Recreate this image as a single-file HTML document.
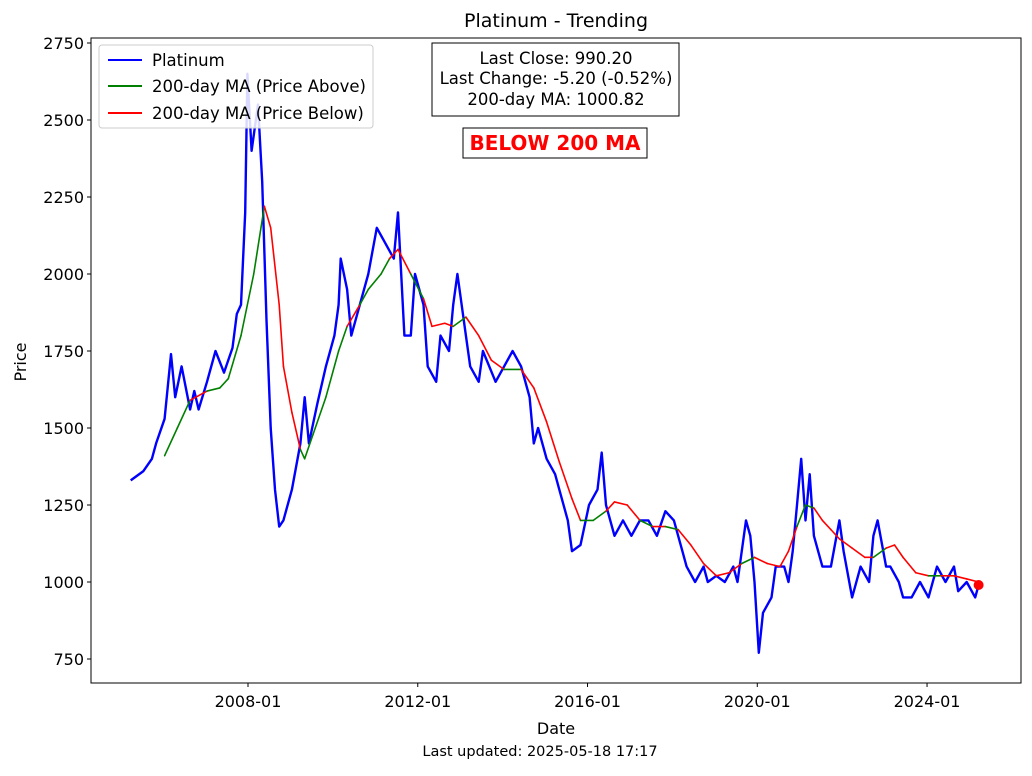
<!DOCTYPE html>
<html><head><meta charset="utf-8"><style>
body{margin:0;background:#fff;font-family:"Liberation Sans","DejaVu Sans",sans-serif}
svg text{font-family:"DejaVu Sans","Liberation Sans",sans-serif}
</style></head><body>
<svg id="chart" width="1032" height="771" xmlns="http://www.w3.org/2000/svg">
<rect width="1032" height="771" fill="#fff"/>
<text x="556" y="27" font-size="19" text-anchor="middle">Platinum - Trending</text>
<g id="plot"></g>
<rect x="91" y="38" width="930" height="645" fill="none" stroke="#000" stroke-width="1"/>
<g id="axes"></g>
<text x="556" y="734" font-size="16" text-anchor="middle">Date</text>
<text x="26" y="362" font-size="16" text-anchor="middle" transform="rotate(-90 26 362)">Price</text>
<text x="540" y="756" font-size="14.5" text-anchor="middle">Last updated: 2025-05-18 17:17</text>
<g>
<rect x="99" y="45" width="274" height="83" rx="3" fill="#fff" fill-opacity="0.85" stroke="#ccc"/>
<line x1="108" y1="60" x2="142" y2="60" stroke="#0000ff" stroke-width="2"/>
<text x="152" y="66" font-size="16.5">Platinum</text>
<line x1="108" y1="86" x2="142" y2="86" stroke="#008000" stroke-width="2"/>
<text x="152" y="92" font-size="16.5">200-day MA (Price Above)</text>
<line x1="108" y1="113" x2="142" y2="113" stroke="#ff0000" stroke-width="2"/>
<text x="152" y="119" font-size="16.5">200-day MA (Price Below)</text>
</g>
<g>
<rect x="432" y="43" width="247" height="73" fill="#fff" stroke="#000"/>
<text x="556" y="64" font-size="16.5" text-anchor="middle">Last Close: 990.20</text>
<text x="556" y="84" font-size="16.5" text-anchor="middle">Last Change: -5.20 (-0.52%)</text>
<text x="556" y="105" font-size="16.5" text-anchor="middle">200-day MA: 1000.82</text>
</g>
<g>
<rect x="463" y="128" width="184" height="30" fill="#fff" stroke="#000"/>
<text x="555" y="150" font-size="20" font-weight="bold" fill="#ff0000" text-anchor="middle">BELOW 200 MA</text>
</g>
</svg>
<script>
const priceT=[2005.4,2005.7,2005.9,2006.0,2006.2,2006.35,2006.45,2006.6,2006.8,2006.9,2007.0,2007.2,2007.4,2007.6,2007.8,2007.9,2008.0,2008.1,2008.15,2008.25,2008.4,2008.5,2008.6,2008.7,2008.8,2008.9,2009.0,2009.2,2009.4,2009.5,2009.6,2009.8,2010.0,2010.2,2010.3,2010.35,2010.5,2010.6,2010.8,2011.0,2011.2,2011.4,2011.6,2011.7,2011.85,2012.0,2012.1,2012.3,2012.4,2012.6,2012.7,2012.9,2013.0,2013.1,2013.3,2013.4,2013.6,2013.7,2014.0,2014.2,2014.4,2014.6,2014.8,2014.9,2015.0,2015.2,2015.4,2015.5,2015.7,2015.8,2016.0,2016.2,2016.4,2016.5,2016.6,2016.8,2017.0,2017.2,2017.4,2017.6,2017.8,2018.0,2018.2,2018.4,2018.5,2018.7,2018.9,2019.0,2019.2,2019.4,2019.6,2019.7,2019.9,2020.0,2020.1,2020.2,2020.3,2020.5,2020.6,2020.8,2020.9,2021.0,2021.1,2021.2,2021.3,2021.4,2021.5,2021.7,2021.9,2022.1,2022.2,2022.4,2022.6,2022.8,2022.9,2023.0,2023.2,2023.3,2023.5,2023.6,2023.8,2024.0,2024.2,2024.4,2024.6,2024.8,2024.9,2025.1,2025.3,2025.38];
const priceV=[1330,1360,1400,1450,1530,1740,1600,1700,1560,1620,1560,1650,1750,1680,1760,1870,1900,2200,2650,2400,2550,2300,1850,1500,1300,1180,1200,1300,1450,1600,1450,1580,1700,1800,1900,2050,1950,1800,1900,2000,2150,2100,2050,2200,1800,1800,2000,1900,1700,1650,1800,1750,1900,2000,1800,1700,1650,1750,1650,1700,1750,1700,1600,1450,1500,1400,1350,1300,1200,1100,1120,1250,1300,1420,1250,1150,1200,1150,1200,1200,1150,1230,1200,1100,1050,1000,1050,1000,1020,1000,1050,1000,1200,1150,1000,770,900,950,1050,1050,1000,1100,1250,1400,1200,1350,1150,1050,1050,1200,1100,950,1050,1000,1150,1200,1050,1050,1000,950,950,1000,950,1050,1000,1050,970,1000,950,990];
const maT=[2006.2,2006.5,2006.8,2007.2,2007.5,2007.7,2008.0,2008.3,2008.55,2008.7,2008.9,2009.0,2009.2,2009.4,2009.5,2009.7,2010.0,2010.3,2010.5,2010.8,2011.0,2011.3,2011.5,2011.7,2012.0,2012.3,2012.5,2012.8,2013.0,2013.3,2013.6,2013.9,2014.2,2014.6,2014.9,2015.2,2015.5,2015.8,2016.0,2016.3,2016.6,2016.8,2017.1,2017.4,2017.7,2018.0,2018.3,2018.6,2018.9,2019.2,2019.5,2019.8,2020.1,2020.4,2020.7,2020.9,2021.1,2021.3,2021.5,2021.7,2021.9,2022.1,2022.4,2022.7,2022.9,2023.2,2023.4,2023.6,2023.9,2024.2,2024.5,2024.8,2025.1,2025.38];
const maV=[1410,1500,1590,1620,1630,1660,1800,2000,2220,2150,1900,1700,1550,1430,1400,1480,1600,1750,1830,1900,1950,2000,2050,2080,2000,1920,1830,1840,1830,1860,1800,1720,1690,1690,1630,1520,1390,1270,1200,1200,1230,1260,1250,1200,1180,1180,1170,1120,1060,1020,1030,1060,1080,1060,1050,1100,1180,1250,1240,1200,1170,1140,1110,1080,1080,1110,1120,1080,1030,1020,1020,1020,1010,1000];
const yTicks=[750,1000,1250,1500,1750,2000,2250,2500,2750];
const xTickLabels=["2008-01","2012-01","2016-01","2020-01","2024-01"];
const xTickYears=[2008,2012,2016,2020,2024];
const lastClose=990.2;

const NS="http://www.w3.org/2000/svg";
function X(t){return 248+(t-2008)*42.44;}
function XD(t){return X(t)-7;}
function Y(v){return 582-(v-1000)*0.308;}
function mk(tag,attrs,parent){const e=document.createElementNS(NS,tag);for(const k in attrs)e.setAttribute(k,attrs[k]);parent.appendChild(e);return e;}
function interp(ts,vs,t){if(t<=ts[0])return vs[0];for(let i=1;i<ts.length;i++){if(t<=ts[i]){const f=(t-ts[i-1])/(ts[i]-ts[i-1]);return vs[i-1]+f*(vs[i]-vs[i-1]);}}return vs[vs.length-1];}
const plot=document.getElementById('plot');
const axes=document.getElementById('axes');

let d=priceT.map((t,i)=>(i?'L':'M')+XD(t).toFixed(1)+' '+Y(priceV[i]).toFixed(1)).join(' ');
const pl=mk('path',{d:d,fill:'none',stroke:'#0000ff','stroke-width':2.4,'stroke-linejoin':'round'},plot);



for(let i=1;i<maT.length;i++){
  const tm=(maT[i-1]+maT[i])/2;
  const above=interp(priceT,priceV,tm)>=interp(maT,maV,tm);
  const s=mk('line',{x1:XD(maT[i-1]),y1:Y(maV[i-1]),x2:XD(maT[i]),y2:Y(maV[i]),stroke:above?'#008000':'#ff0000','stroke-width':1.6,'stroke-linecap':'round'},plot);
  
  
}
const dot=mk('circle',{cx:XD(priceT[priceT.length-1]),cy:Y(lastClose),r:5,fill:'#ff0000'},plot);



yTicks.forEach(v=>{
  const l=mk('line',{x1:87,x2:91,y1:Y(v),y2:Y(v),stroke:'#000'},axes);
  
  
  const t=mk('text',{x:84,y:Y(v)+6,'font-size':16,'text-anchor':'end'},axes);
  t.textContent=v;
  
  
});
xTickYears.forEach((yr,i)=>{
  const l=mk('line',{x1:X(yr),x2:X(yr),y1:683,y2:687,stroke:'#000'},axes);
  
  
  const t=mk('text',{x:X(yr),y:707,'font-size':16,'text-anchor':'middle'},axes);
  t.textContent=xTickLabels[i];
  
  
});
</script>
</body></html>
